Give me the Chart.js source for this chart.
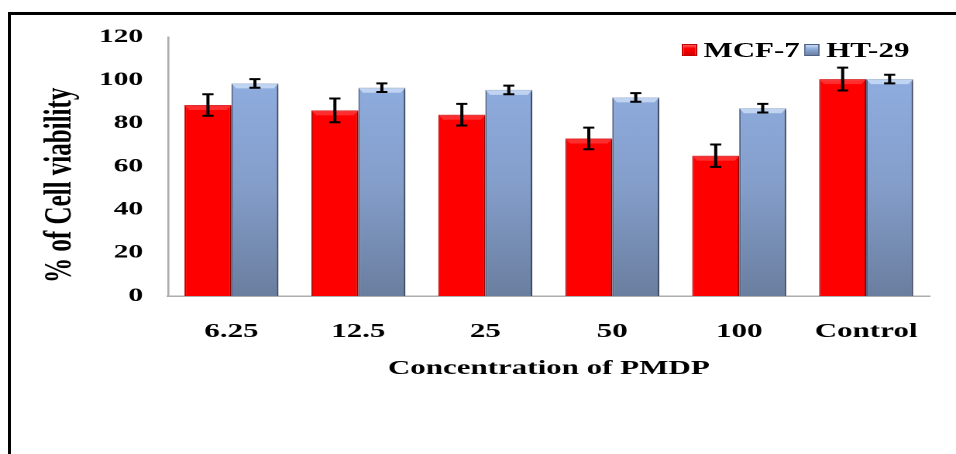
<!DOCTYPE html>
<html>
<head>
<meta charset="utf-8">
<script src="https://cdn.jsdelivr.net/npm/chart.js@4"></script>
<style>
  html, body { margin: 0; padding: 0; background: #fff; overflow: hidden; }
  #page { position: relative; width: 956px; height: 454px; }
  #frameTop { position: absolute; left: 8px; top: 12px; width: 948px; height: 3px; background: #000; }
  #frameLeft { position: absolute; left: 8px; top: 12px; width: 3px; height: 442px; background: #000; }
  /* the original figure is stretched sideways, so the whole chart is drawn narrow and scaled */
  #wrap { position: absolute; left: 0; top: 0; width: 617px; height: 454px;
          transform: scaleX(1.5494); transform-origin: 0 0; }
  #legend { position: absolute; left: 440px; top: 40px; display: flex;
            font: bold 20px 'Liberation Serif', 'Times New Roman', serif; line-height: 20px; color: #000; }
  #legend .item { display: flex; align-items: center; margin-right: 3px; }
  #legend .box { width: 10px; height: 12px; margin-right: 4px; box-sizing: border-box; }
</style>
</head>
<body>
<div id="page">
  <div id="frameTop"></div>
  <div id="frameLeft"></div>
  <div id="wrap">
    <canvas id="canvas" width="617" height="454"></canvas>
    <div id="legend"></div>
  </div>
</div>
<script>
var categories = ['6.25', '12.5', '25', '50', '100', 'Control'];
var mcf7 = [88.5, 86, 84, 73, 65, 100.5];
var mcf7Err = [5, 5.5, 5, 5, 5.2, 5.3];
var ht29 = [98.5, 96.5, 95.5, 92, 87, 100.5];
var ht29Err = [2, 2, 2, 2, 2, 2];
var yTicks = [0, 20, 40, 60, 80, 100, 120];

var errors = [mcf7Err, ht29Err];

function blueFill(ctx) {
    var area = ctx.chart.chartArea;
    if (!area) return '#89A5D3';
    var g = ctx.chart.ctx.createLinearGradient(0, area.top + 40, 0, area.bottom);
    g.addColorStop(0, '#8FADE0');
    g.addColorStop(0.5, '#849ECA');
    g.addColorStop(1, '#6A7E9F');
    return g;
}

var barStyle = {
    id: 'barStyle',
    beforeDatasetsDraw: function (chart) {
        var ctx = chart.ctx;
        ctx.save();
        ctx.shadowColor = 'rgba(0,0,0,0.35)';
        ctx.shadowBlur = 6;
        ctx.shadowOffsetX = 4;
        ctx.shadowOffsetY = 2;
    },
    afterDatasetsDraw: function (chart) {
        var ctx = chart.ctx;
        ctx.restore();
        var yScale = chart.scales.y;
        chart.data.datasets.forEach(function (ds, i) {
            var meta = chart.getDatasetMeta(i);
            meta.data.forEach(function (bar, j) {
                var l = bar.x - bar.width / 2, r = bar.x + bar.width / 2;
                // bevel on top of the bar
                ctx.beginPath();
                ctx.moveTo(l, bar.y);
                ctx.lineTo(r, bar.y);
                ctx.lineTo(r - 3, bar.y + 5);
                ctx.lineTo(l + 3, bar.y + 5);
                ctx.closePath();
                ctx.fillStyle = i === 0 ? 'rgba(255,90,90,0.5)' : 'rgba(205,222,248,0.8)';
                ctx.fill();
            });
        });
        // error bars
        ctx.save();
        ctx.strokeStyle = '#000';
        ctx.lineWidth = 2;
        chart.data.datasets.forEach(function (ds, i) {
            var meta = chart.getDatasetMeta(i);
            meta.data.forEach(function (bar, j) {
                var v = ds.data[j], e = errors[i][j];
                var top = yScale.getPixelForValue(v + e);
                var bot = yScale.getPixelForValue(v - e);
                var cap = 3.6;
                ctx.beginPath();
                ctx.moveTo(bar.x, top); ctx.lineTo(bar.x, bot);
                ctx.moveTo(bar.x - cap, top); ctx.lineTo(bar.x + cap, top);
                ctx.moveTo(bar.x - cap, bot); ctx.lineTo(bar.x + cap, bot);
                ctx.stroke();
            });
        });
        ctx.restore();
    }
};

Chart.defaults.font.family = "'Liberation Serif', 'Times New Roman', serif";
Chart.defaults.font.weight = 'bold';
Chart.defaults.color = '#000';

var ctx = document.getElementById('canvas').getContext('2d');
var chart = new Chart(ctx, {
    type: 'bar',
    data: {
        labels: categories,
        datasets: [
            {
                label: 'MCF-7',
                data: mcf7,
                backgroundColor: '#FF0000',
                borderColor: '#C40000',
                borderWidth: 1,
                borderSkipped: 'bottom'
            },
            {
                label: 'HT-29',
                data: ht29,
                backgroundColor: blueFill,
                borderColor: '#4E6184',
                borderWidth: 1,
                borderSkipped: 'bottom'
            }
        ]
    },
    options: {
        responsive: false,
        animation: false,
        devicePixelRatio: 2,
        layout: { padding: { top: 37, bottom: 58, left: 0, right: 10 } },
        datasets: { bar: { categoryPercentage: 0.74, barPercentage: 1 } },
        plugins: {
            legend: { display: false },
            tooltip: { enabled: false }
        },
        scales: {
            x: {
                grid: { display: false, drawTicks: false },
                border: { display: true, color: '#ADADAD', width: 1.5 },
                ticks: { padding: 24, font: { size: 20, weight: 'bold' } },
                title: {
                    display: true,
                    text: 'Concentration of PMDP',
                    font: { size: 20, weight: 'bold' },
                    padding: { top: 0, bottom: 15 }
                },
                afterFit: function (scale) { scale.height = 100; }
            },
            y: {
                min: 0,
                max: 120,
                grid: { display: false, drawTicks: false },
                border: { display: true, color: '#ADADAD', width: 1.3 },
                afterBuildTicks: function (scale) {
                    scale.ticks = yTicks.map(function (v) { return { value: v }; });
                },
                ticks: { padding: 16, font: { size: 19, weight: 'bold' } },
                title: {
                    display: true,
                    text: '% of Cell viability      ',
                    font: { size: 25, weight: 'bold' },
                    padding: { top: 24, bottom: 0 }
                },
                afterFit: function (scale) { scale.width = 108.4; }
            }
        }
    },
    plugins: [barStyle]
});

// legend drawn as html so it can sit inside the plot like the original
var legend = document.getElementById('legend');
chart.data.datasets.forEach(function (ds, i) {
    var item = document.createElement('span');
    item.className = 'item';
    var box = document.createElement('span');
    box.className = 'box';
    box.style.background = i === 0
        ? 'linear-gradient(#FF6060, #FF0000 35%, #D80000)'
        : 'linear-gradient(#C8DAF4, #8EACDC 40%, #6C80A2)';
    box.style.border = '1px solid ' + ds.borderColor;
    item.appendChild(box);
    item.appendChild(document.createTextNode(ds.label));
    legend.appendChild(item);
});
</script>
</body>
</html>
